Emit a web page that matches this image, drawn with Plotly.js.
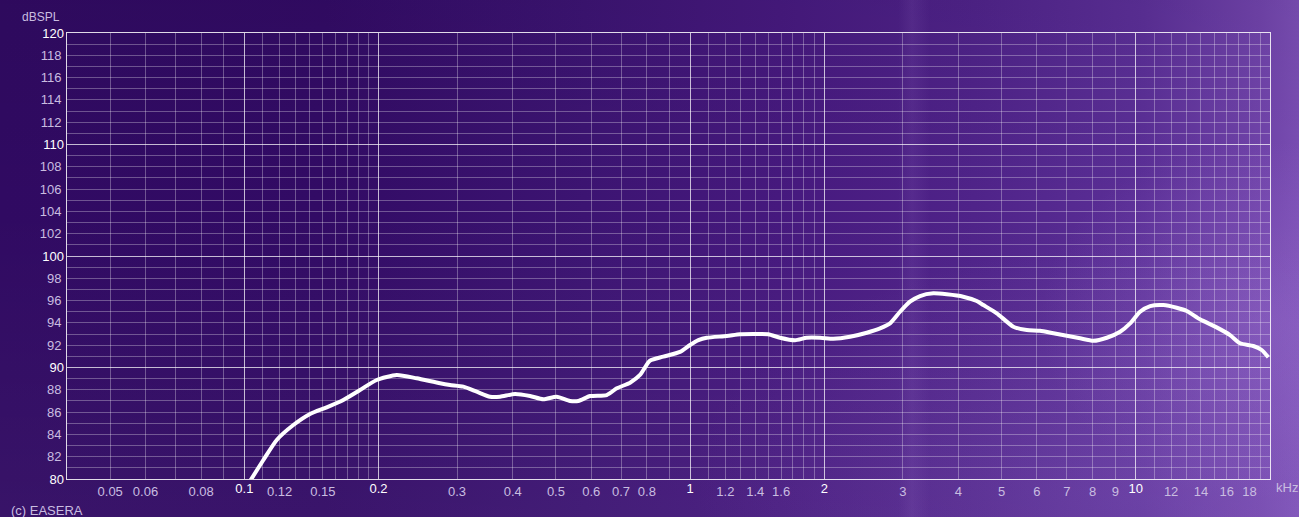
<!DOCTYPE html>
<html>
<head>
<meta charset="utf-8">
<script src="https://cdn.plot.ly/plotly-3.0.1.min.js"></script>
<style>
html,body{margin:0;padding:0;width:1299px;height:517px;overflow:hidden;background:#300a62;}
#bg{position:absolute;left:0;top:0;width:1299px;height:517px;
background:
 radial-gradient(ellipse 220px 180px at 1260px 320px, rgba(175,135,225,0.25), rgba(175,135,225,0) 100%),
 radial-gradient(ellipse 480px 240px at 1170px 480px, rgba(150,110,210,0.22), rgba(150,110,210,0) 100%),
 linear-gradient(90deg, rgba(255,255,255,0) 898px, rgba(200,170,240,0.08) 912px, rgba(255,255,255,0) 930px),
 linear-gradient(180deg, rgba(0,0,0,0.05) 0%, rgba(0,0,0,0) 40%, rgba(255,255,255,0.04) 100%),
 linear-gradient(90deg, #300a62 0%, #320b65 25%, #3c1472 45%, #46197e 60%, #4f2389 75%, #5b2f97 88%, #7043aa 97%, #7a4eb4 100%);}
#chart{position:absolute;left:0;top:0;width:1299px;height:517px;}
</style>
</head>
<body>
<div id="bg"></div>
<div id="chart"></div>
<script>
// Frequency response (kHz, dBSPL)
const freqKHz = [0.100,0.1039,0.1103,0.1182,0.1288,0.1404,0.1530,0.1667,0.1817,0.1981,0.2197,0.2436,0.2748,0.2893,0.3099,0.3321,0.3558,0.3746,0.4047,0.4374,0.4685,0.5020,0.5377,0.5615,0.5965,0.650,0.6848,0.7334,0.772,0.8129,0.8708,0.949,0.9997,1.0436,1.0896,1.2084,1.294,1.411,1.498,1.5916,1.719,1.826,1.957,2.096,2.285,2.491,2.668,2.809,2.958,3.114,3.28,3.513,3.765,4.10,4.397,4.549,4.876,5.312,5.693,6.097,6.533,7.0,7.497,8.03,8.61,9.22,9.71,10.22,10.77,11.53,12.35,13.01,13.93,15.18,16.27,17.13,18.35,19.16,19.83];
const splDb = [79.0,80.06,81.70,83.50,84.84,85.83,86.43,87.09,87.98,88.88,89.33,89.03,88.58,88.43,88.28,87.83,87.38,87.38,87.62,87.44,87.15,87.38,87.00,87.00,87.44,87.53,88.13,88.64,89.33,90.61,90.97,91.40,92.02,92.45,92.67,92.82,92.98,93.0,92.98,92.67,92.44,92.67,92.67,92.58,92.76,93.12,93.51,93.96,95.0,95.9,96.41,96.65,96.56,96.35,95.96,95.6,94.86,93.66,93.36,93.3,93.07,92.85,92.62,92.40,92.67,93.21,93.96,95.0,95.51,95.6,95.36,95.07,94.32,93.6,92.91,92.17,91.93,91.57,90.91];

// Minor (dim) frequency grid lines and their labels
const minorFreqs = [0.05,0.06,0.07,0.08,0.09,0.11,0.12,0.13,0.14,0.15,0.16,0.17,0.18,0.19,0.3,0.4,0.5,0.6,0.7,0.8,0.9,1.1,1.2,1.3,1.4,1.5,1.6,1.7,1.8,1.9,3,4,5,6,7,8,9,11,12,13,14,15,16,17,18,19];
const minorFreqLabels = ['0.05','0.06','','0.08','','','0.12','','','0.15','','','','','0.3','0.4','0.5','0.6','0.7','0.8','','','1.2','','1.4','','1.6','','','','3','4','5','6','7','8','9','','12','','14','','16','','18',''];
// Major (bright) frequency grid lines
const majorFreqs = [0.1,0.2,1,2,10];
const majorFreqLabels = ['0.1','0.2','1','2','10'];

// Level grid
const minorLevels = [81,82,83,84,85,86,87,88,89,91,92,93,94,95,96,97,98,99,101,102,103,104,105,106,107,108,109,111,112,113,114,115,116,117,118,119];
const minorLevelLabels = ['','82','','84','','86','','88','','','92','','94','','96','','98','','','102','','104','','106','','108','','','112','','114','','116','','118',''];
const majorLevels = [80,90,100,110,120];
const majorLevelLabels = ['80','90','100','110','120'];

const xRange = [Math.log10(0.04), Math.log10(20)];
const yRange = [80, 120];

const dimGrid = 'rgba(255,255,255,0.30)';
const brightGrid = 'rgba(255,255,255,0.72)';
const dimText = '#c9bde0';
const brightText = '#ffffff';
const fontFam = 'Liberation Sans, Arial, sans-serif';
const fs = 13;

const curve = {
  x: freqKHz, y: splDb, xaxis: 'x', yaxis: 'y',
  type: 'scatter', mode: 'lines',
  line: {color: '#ffffff', width: 4, shape: 'spline', smoothing: 0.6},
  hoverinfo: 'skip'
};
// empty trace so the overlay axes (bright grid) are drawn
const overlayAxes = {x: [], y: [], xaxis: 'x2', yaxis: 'y2', type: 'scatter', mode: 'lines', hoverinfo: 'skip'};

const layout = {
  width: 1299, height: 517,
  margin: {l: 67, r: 29, t: 33, b: 38},
  paper_bgcolor: 'rgba(0,0,0,0)',
  plot_bgcolor: 'rgba(0,0,0,0)',
  showlegend: false,
  font: {family: fontFam, size: fs, color: dimText},
  xaxis: {
    type: 'log', range: xRange, tickmode: 'array',
    tickvals: minorFreqs, ticktext: minorFreqLabels,
    showgrid: true, gridcolor: dimGrid, gridwidth: 1,
    ticks: '', zeroline: false,
    showline: true, mirror: true, linecolor: 'rgba(255,255,255,0.85)', linewidth: 1,
    tickfont: {family: fontFam, size: fs, color: dimText},
    fixedrange: true
  },
  xaxis2: {
    type: 'log', range: xRange, overlaying: 'x', anchor: 'y2', side: 'bottom',
    tickmode: 'array', tickvals: majorFreqs, ticktext: majorFreqLabels,
    showgrid: true, gridcolor: brightGrid, gridwidth: 1,
    ticks: '', zeroline: false, showline: false,
    tickfont: {family: fontFam, size: fs, color: brightText},
    fixedrange: true
  },
  yaxis: {
    range: yRange, tickmode: 'array',
    tickvals: minorLevels, ticktext: minorLevelLabels,
    showgrid: true, gridcolor: dimGrid, gridwidth: 1,
    ticks: '', zeroline: false,
    showline: true, mirror: true, linecolor: 'rgba(255,255,255,0.85)', linewidth: 1,
    tickfont: {family: fontFam, size: fs, color: dimText},
    ticklabelstandoff: 2,
    fixedrange: true
  },
  yaxis2: {
    range: yRange, overlaying: 'y', anchor: 'x2', side: 'left',
    tickmode: 'array', tickvals: majorLevels, ticktext: majorLevelLabels,
    showgrid: true, gridcolor: brightGrid, gridwidth: 1,
    ticks: '', zeroline: false, showline: false,
    tickfont: {family: fontFam, size: fs, color: brightText},
    ticklabelstandoff: 2,
    fixedrange: true
  },
  annotations: [
    {text: 'dBSPL', xref: 'paper', yref: 'paper', x: -0.004, y: 1.036, xanchor: 'right', yanchor: 'middle', showarrow: false, font: {family: fontFam, size: 12, color: dimText}},
    {text: 'kHz', xref: 'paper', yref: 'paper', x: 1.003, y: -0.020, xanchor: 'left', yanchor: 'middle', showarrow: false, font: {family: fontFam, size: fs, color: dimText}},
    {text: '(c) EASERA', xref: 'paper', yref: 'paper', x: -0.048, y: -0.071, xanchor: 'left', yanchor: 'middle', showarrow: false, font: {family: fontFam, size: fs, color: dimText}}
  ]
};

Plotly.newPlot('chart', [curve, overlayAxes], layout, {displayModeBar: false, staticPlot: true});
</script>
</body>
</html>
